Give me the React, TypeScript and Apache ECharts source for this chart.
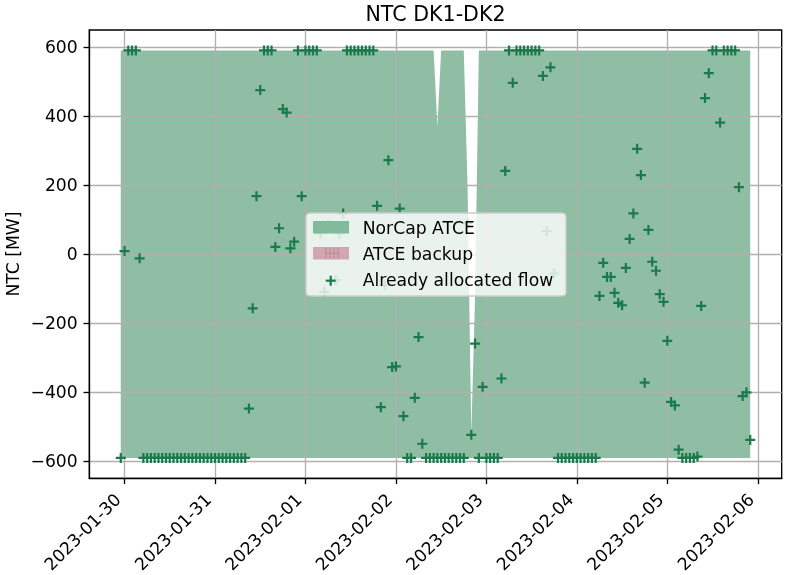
import React, { useEffect, useRef } from "react";
import * as echarts from "echarts";

// x positions: hours relative to 2023-01-30 00:00, hourly data starting 2023-01-29 23:00
const firstHour = -1;
const tickHours = [0, 24, 48, 72, 96, 120, 144, 168];
const tickLabels = ["2023-01-30", "2023-01-31", "2023-02-01", "2023-02-02", "2023-02-03", "2023-02-04", "2023-02-05", "2023-02-06"];
const yTicks = [-600, -400, -200, 0, 200, 400, 600];

const atceUp = [
  590, 590, 590, 590, 590, 590, 590, 590, 590, 590, 590, 590, 590, 590, 590, 590, 590, 590, 590, 590, 590, 590, 590, 590,
  590, 590, 590, 590, 590, 590, 590, 590, 590, 590, 590, 590, 590, 590, 590, 590, 590, 590, 590, 590, 590, 590, 590, 590,
  590, 590, 590, 590, 590, 590, 590, 590, 590, 590, 590, 590, 590, 590, 590, 590, 590, 590, 590, 590, 590, 590, 590, 590,
  590, 590, 590, 590, 590, 590, 590, 590, 590, 590, 590, 590, 370, 590, 590, 590, 590, 590, 590, 590, 200, -520, -120, 590,
  590, 590, 590, 590, 590, 590, 590, 590, 590, 590, 590, 590, 590, 590, 590, 590, 590, 590, 590, 590, 590, 590, 590, 590,
  590, 590, 590, 590, 590, 590, 590, 590, 590, 590, 590, 590, 590, 590, 590, 590, 590, 590, 590, 590, 590, 590, 590, 590,
  590, 590, 590, 590, 590, 590, 590, 590, 590, 590, 590, 590, 590, 590, 590, 590, 590, 590, 590, 590, 590, 590, 590, 590,
];

const atceDown = [
  -590, -590, -590, -590, -590, -590, -590, -590, -590, -590, -590, -590, -590, -590, -590, -590, -590, -590, -590, -590, -590, -590, -590, -590,
  -590, -590, -590, -590, -590, -590, -590, -590, -590, -590, -590, -590, -590, -590, -590, -590, -590, -590, -590, -590, -590, -590, -590, -590,
  -590, -590, -590, -590, -590, -590, -590, -590, -590, -590, -590, -590, -590, -590, -590, -590, -590, -590, -590, -590, -590, -590, -590, -590,
  -590, -590, -590, -590, -590, -590, -590, -590, -590, -590, -590, -590, -590, -590, -590, -590, -590, -590, -590, -590, -590, -590, -590, -590,
  -590, -590, -590, -590, -590, -590, -590, -590, -590, -590, -590, -590, -590, -590, -590, -590, -590, -590, -590, -590, -590, -590, -590, -590,
  -590, -590, -590, -590, -590, -590, -590, -590, -590, -590, -590, -590, -590, -590, -590, -590, -590, -590, -590, -590, -590, -590, -590, -590,
  -590, -590, -590, -590, -590, -590, -590, -590, -590, -590, -590, -590, -590, -590, -590, -590, -590, -590, -590, -590, -590, -590, -590, -590,
];

const allocatedFlow = [
  -590, 9, 590, 590, 590, -12, -590, -590, -590, -590, -590, -590, -590, -590, -590, -590, -590, -590, -590, -590, -590, -590, -590, -590,
  -590, -590, -590, -590, -590, -590, -590, -590, -590, -590, -447, -157, 168, 475, 590, 590, 590, 21, 75, 420, 410, 17, 36, 590,
  168, 590, 590, 590, 590, 60, -109, 85, 0, -75, 60, 118, 590, 590, 590, 590, 590, 590, 590, 590, 140, -443, -90, 272,
  -327, -325, 132, -469, -590, -590, -416, -240, -549, -590, -590, -590, -590, -590, -590, -590, -590, -590, -590, -590, 90, -523, -259, -590,
  -384, -590, -590, -590, -590, -360, 241, 590, 496, 590, 590, 590, 590, 590, 590, 590, 516, 67, 541, -56, -590, -590, -590, -590,
  -590, -590, -590, -590, -590, -590, -590, -121, -25, -66, -66, -112, -141, -148, -40, 44, 118, 305, 229, -372, 70, -22, -48, -116,
  -138, -251, -428, -438, -566, -590, -590, -590, -590, -586, -150, 452, 524, 590, 590, 381, 590, 590, 590, 590, 194, -411, -400, -538,
];

const FONT = "DejaVu Sans";
const FS = 17.2;
const FILL = "#8fbea4";
const MARK = "#1b7a4c";
const PLUS = "path://M3.9,0H6.1V3.9H10V6.1H6.1V10H3.9V6.1H0V3.9H3.9Z";

export default function App() {
  const ref = useRef<HTMLDivElement>(null);
  useEffect(() => {
    const chart = echarts.init(ref.current!, null, { renderer: "svg" });
    const hrs = allocatedFlow.map((_, i) => firstHour + i);
    const minus = (v: number) => (v < 0 ? "\u2212" + Math.abs(v) : String(v));
    const axisBlack = { color: "#000", width: 1.33 };
    const hatchX = [326, 330, 334, 338];
    const legendText = (text: string, y: number) => ({
      type: "text", x: 362.7, y, z: 22,
      style: { text, fontSize: FS, fontFamily: FONT, fill: "#000", verticalAlign: "middle", textVerticalAlign: "middle" },
    });
    const option: any = {
      animation: false,
      grid: {
        left: 89.3, right: 3.3, top: 30, bottom: 96.7,
        show: true, borderColor: "#000", borderWidth: 1.33,
        outerBoundsMode: "none", containLabel: false,
      },
      xAxis: {
        type: "value", min: -9.35, max: 174.35, z: 3,
        axisLine: { show: true, onZero: false, lineStyle: axisBlack },
        axisTick: { show: true, customValues: tickHours, length: 5.8, lineStyle: axisBlack },
        axisLabel: {
          customValues: tickHours,
          formatter: (v: number) => tickLabels[Math.round(v / 24)] ?? "",
          rotate: 45, margin: 11.6, fontSize: FS, color: "#000", fontFamily: FONT,
          padding: [0, 9.5, 0, 0],
        },
        splitLine: { show: true, lineStyle: { color: "#b0b0b0", width: 1.33 } },
      },
      yAxis: {
        type: "value", min: -649, max: 649, z: 3,
        axisLine: { show: true, onZero: false, lineStyle: axisBlack },
        axisTick: { show: true, customValues: yTicks, length: 5.8, lineStyle: axisBlack },
        axisLabel: {
          customValues: yTicks, formatter: minus,
          margin: 11.6, fontSize: FS, color: "#000", fontFamily: FONT,
        },
        splitLine: { show: true, lineStyle: { color: "#b0b0b0", width: 1.33 } },
      },
      series: [
        {
          type: "custom",
          name: "NorCap ATCE",
          silent: true,
          z: 2,
          data: hrs.map((h, i) => [h, atceUp[i], atceDown[i]]),
          encode: { x: 0, y: [1, 2] },
          renderItem: (params: any, api: any) => {
            if (params.dataIndex !== 0) return null;
            const top = hrs.map((h, i) => api.coord([h, atceUp[i]]));
            const bottom = hrs.map((h, i) => api.coord([h, atceDown[i]])).reverse();
            return {
              type: "polygon",
              shape: { points: top.concat(bottom) },
              style: { fill: FILL },
            };
          },
        },
        {
          type: "scatter",
          name: "Already allocated flow",
          z: 5,
          symbol: PLUS,
          symbolSize: 10,
          itemStyle: { color: MARK, opacity: 1 },
          data: hrs.map((h, i) => [h, allocatedFlow[i]]),
        },
      ],
      graphic: [
        {
          type: "text", x: 435.5, y: 14, z: 10,
          style: { text: "NTC DK1-DK2", fontSize: 20.6, fontFamily: FONT, fill: "#000", align: "center", verticalAlign: "middle", textAlign: "center", textVerticalAlign: "middle" },
        },
        {
          type: "text", x: 13, y: 254, rotation: Math.PI / 2, z: 10,
          style: { text: "NTC [MW]", fontSize: FS, fontFamily: FONT, fill: "#000", align: "center", verticalAlign: "middle", textAlign: "center", textVerticalAlign: "middle" },
        },
        { type: "rect", z: 20, shape: { x: 306, y: 213, width: 260, height: 83, r: 4 }, style: { fill: "rgba(255,255,255,0.8)", stroke: "#cccccc", lineWidth: 1.3 } },
        { type: "rect", z: 21, shape: { x: 313, y: 221, width: 36, height: 12.5 }, style: { fill: "#82ba9c" } },
        { type: "rect", z: 21, shape: { x: 313, y: 247, width: 36, height: 12.5 }, style: { fill: "#d1a8b0" } },
        ...hatchX.map((hx) => ({ type: "line", z: 22, shape: { x1: hx, y1: 248, x2: hx, y2: 258.5 }, style: { stroke: "#b98792", lineWidth: 1 } })),
        { type: "line", z: 22, shape: { x1: 325, y1: 253.3, x2: 340, y2: 253.3 }, style: { stroke: "#b98792", lineWidth: 0.8 } },
        { type: "rect", z: 22, shape: { x: 325.7, y: 279.6, width: 10, height: 2.2 }, style: { fill: MARK } },
        { type: "rect", z: 22, shape: { x: 329.6, y: 275.7, width: 2.2, height: 10 }, style: { fill: MARK } },
        legendText("NorCap ATCE", 228),
        legendText("ATCE backup", 254),
        legendText("Already allocated flow", 280),
      ],
    };
    chart.setOption(option);
    return () => chart.dispose();
  }, []);
  return <div ref={ref} style={{ position: "fixed", left: 0, top: 0, width: 785, height: 575 }} />;
}
